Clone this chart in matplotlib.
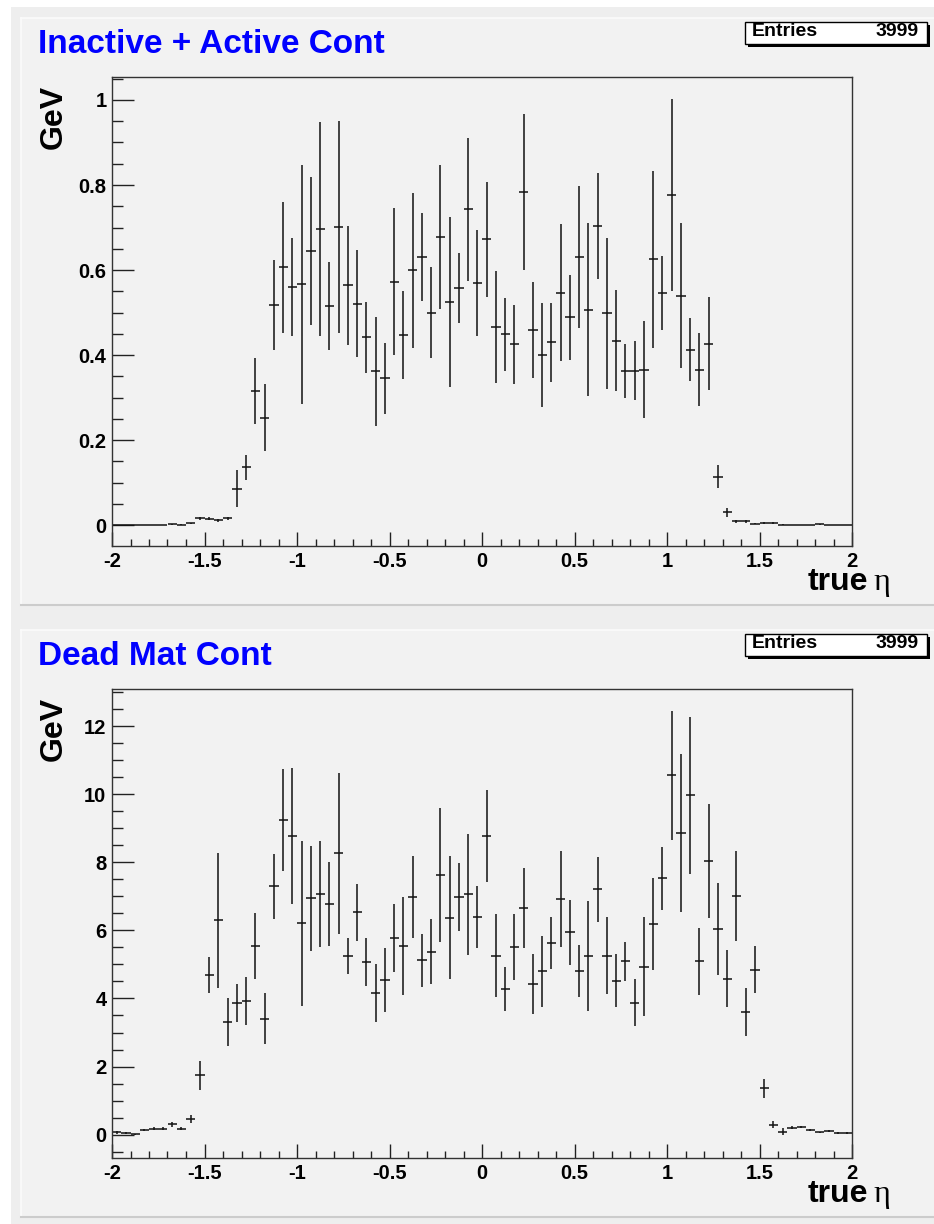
import matplotlib
matplotlib.use("Agg")
import matplotlib.pyplot as plt
from matplotlib.patches import Rectangle
from matplotlib.lines import Line2D
from matplotlib.ticker import MultipleLocator, FuncFormatter
import numpy as np

# 80 bins from -2 to 2
edges_lo, edges_hi, nbins = -2.0, 2.0, 80

top_vals = [0, 0, 0, 0, 0, 0, 0.002, 0.001, 0.004, 0.016, 0.015, 0.011, 0.016, 0.086,
            0.136, 0.315, 0.253, 0.517, 0.607, 0.56, 0.566, 0.645, 0.696, 0.515, 0.701,
            0.564, 0.521, 0.442, 0.362, 0.345, 0.573, 0.447, 0.599, 0.631, 0.5, 0.678,
            0.524, 0.558, 0.743, 0.569, 0.672, 0.466, 0.449, 0.425, 0.783, 0.459, 0.401,
            0.43, 0.547, 0.489, 0.631, 0.507, 0.704, 0.498, 0.434, 0.363, 0.363, 0.366,
            0.625, 0.546, 0.777, 0.54, 0.413, 0.366, 0.427, 0.114, 0.03, 0.009, 0.009,
            0.003, 0.005, 0.005, 0.0015, 0.001, 0.001, 0.001, 0.002, 0.001, 0.001, 0.001]
top_errs = [0, 0, 0, 0, 0, 0, 0.001, 0.001, 0.002, 0.004, 0.004, 0.003, 0.004, 0.043,
            0.03, 0.077, 0.079, 0.106, 0.154, 0.116, 0.282, 0.174, 0.251, 0.103, 0.25,
            0.14, 0.125, 0.084, 0.128, 0.084, 0.172, 0.104, 0.183, 0.104, 0.106, 0.17,
            0.2, 0.083, 0.168, 0.125, 0.135, 0.131, 0.086, 0.092, 0.184, 0.113, 0.122,
            0.093, 0.161, 0.10, 0.167, 0.203, 0.125, 0.177, 0.118, 0.063, 0.069, 0.113,
            0.208, 0.087, 0.226, 0.17, 0.075, 0.085, 0.11, 0.027, 0.01, 0.003, 0.003,
            0.001, 0.002, 0.002, 0.0005, 0.0005, 0.0005, 0.0005, 0.0005, 0.0005, 0.0005, 0.0005]

bot_vals = [0.06, 0.04, 0.01, 0.12, 0.17, 0.17, 0.30, 0.17, 0.46, 1.74, 4.69, 6.30, 3.30,
            3.87, 3.93, 5.53, 3.41, 7.30, 9.25, 8.78, 6.21, 6.95, 7.06, 6.77, 8.27, 5.26,
            6.53, 5.07, 4.16, 4.53, 5.78, 5.54, 6.99, 5.12, 5.38, 7.63, 6.38, 6.99, 7.06,
            6.39, 8.78, 5.26, 4.28, 5.52, 6.65, 4.42, 4.80, 5.63, 6.92, 5.95, 4.80, 5.26,
            7.21, 5.26, 4.52, 5.09, 3.87, 4.94, 6.19, 7.53, 10.56, 8.86, 9.97, 5.09, 8.05,
            6.04, 4.58, 7.01, 3.6, 4.84, 1.36, 0.29, 0.08, 0.2, 0.22, 0.14, 0.06, 0.1,
            0.04, 0.04]
bot_errs = [0.05, 0.03, 0.01, 0.03, 0.04, 0.04, 0.08, 0.04, 0.12, 0.43, 0.54, 1.98, 0.71,
            0.57, 0.71, 0.97, 0.76, 0.96, 1.5, 2.0, 2.42, 1.54, 1.56, 1.23, 2.37, 0.53,
            0.84, 0.71, 0.86, 0.94, 1.01, 1.43, 1.2, 0.78, 0.96, 1.98, 1.8, 1.0, 1.79,
            0.91, 1.36, 1.23, 0.66, 0.97, 1.18, 0.89, 1.04, 0.76, 1.41, 0.96, 0.77, 1.62,
            0.95, 1.14, 0.78, 0.58, 0.69, 1.45, 1.36, 0.92, 1.9, 2.32, 2.31, 0.99, 1.68,
            1.35, 0.84, 1.33, 0.7, 0.69, 0.28, 0.1, 0.1, 0.04, 0.04, 0.03, 0.02, 0.03,
            0.02, 0.02]

titles = ["Inactive + Active Cont", "Dead Mat Cont"]
entries = 3999
ylims = [(-0.049, 1.054), (-0.69, 13.1)]
ymajor = [0.2, 2]
yminor = [0.05, 0.5]

W, H = 934, 1224
BG = "#f2f2f2"
BOLD = "Liberation Sans"


def fx(px):
    return px / W


def fy(py):
    return 1 - py / H


fig = plt.figure(figsize=(W / 100, H / 100), dpi=100, facecolor="white")

# canvas + pads (drawn under the axes)
fig.patches.append(Rectangle((fx(11), fy(H)), fx(W) - fx(11), fy(7) - fy(H),
                             transform=fig.transFigure, facecolor="#eeeeee", edgecolor="none",
                             zorder=-3))
for dy in [0, 612]:
    fig.patches.append(Rectangle((fx(21), fy(605 + dy)), fx(W) - fx(21), fy(18 + dy) - fy(605 + dy),
                                 transform=fig.transFigure, facecolor=BG, edgecolor="none",
                                 zorder=-2))
    fig.lines.append(Line2D([fx(21), fx(W)], [fy(18 + dy)] * 2, transform=fig.transFigure,
                            color="#fbfbfb", lw=1.2, zorder=-1))
    fig.lines.append(Line2D([fx(21)] * 2, [fy(18 + dy), fy(605 + dy)], transform=fig.transFigure,
                            color="#fbfbfb", lw=1.2, zorder=-1))
    fig.lines.append(Line2D([fx(21), fx(W)], [fy(605 + dy)] * 2, transform=fig.transFigure,
                            color="#cccccc", lw=1.5, zorder=-1))

centers = edges_lo + (np.arange(nbins) + 0.5) * (edges_hi - edges_lo) / nbins
halfw = (edges_hi - edges_lo) / nbins / 2
fmt = FuncFormatter(lambda v, p: "%g" % round(v, 6))

datasets = [(top_vals, top_errs), (bot_vals, bot_errs)]
for k, (vals, errs) in enumerate(datasets):
    dy = 612 * k
    ax = fig.add_axes([fx(112), fy(546 + dy), fx(852) - fx(112), fy(77) - fy(546)])
    ax.set_zorder(1)
    ax.set_facecolor(BG)
    ax.errorbar(centers, vals, yerr=errs, xerr=halfw, fmt="none", ecolor="#111111",
                elinewidth=1.1, capsize=0)
    ax.set_xlim(edges_lo, edges_hi)
    ax.set_ylim(*ylims[k])
    ax.xaxis.set_major_locator(MultipleLocator(0.5))
    ax.xaxis.set_minor_locator(MultipleLocator(0.1))
    ax.yaxis.set_major_locator(MultipleLocator(ymajor[k]))
    ax.yaxis.set_minor_locator(MultipleLocator(yminor[k]))
    ax.xaxis.set_major_formatter(fmt)
    ax.yaxis.set_major_formatter(fmt)
    for s in ax.spines.values():
        s.set_color("#333333")
        s.set_linewidth(1.0)
    ax.tick_params(axis="x", which="major", direction="in", length=10, width=1, pad=4,
                   color="#222222")
    ax.tick_params(axis="x", which="minor", direction="in", length=5, width=1, color="#222222")
    ax.tick_params(axis="y", which="major", direction="in", length=16, width=1, pad=4,
                   color="#222222")
    ax.tick_params(axis="y", which="minor", direction="in", length=8, width=1, color="#222222")
    for lab in ax.get_xticklabels() + ax.get_yticklabels():
        lab.set_fontfamily(BOLD)
        lab.set_fontweight("bold")
        lab.set_fontsize(14.5)

    # title
    fig.text(fx(38), fy(53 + dy), titles[k], color="#0000ff", fontsize=24, fontweight="bold",
             family=BOLD, ha="left", va="baseline")
    # stats box with shadow
    fig.patches.append(Rectangle((fx(748), fy(47 + dy)), fx(930) - fx(748), fy(25) - fy(47),
                                 transform=fig.transFigure, facecolor="black", edgecolor="none",
                                 zorder=3))
    fig.patches.append(Rectangle((fx(745), fy(44 + dy)), fx(927) - fx(745), fy(22) - fy(44),
                                 transform=fig.transFigure, facecolor="white", edgecolor="black",
                                 lw=1, zorder=4))
    fig.text(fx(752), fy(31 + dy), "Entries", fontsize=14, fontweight="bold", family=BOLD,
             ha="left", va="center", zorder=5)
    fig.text(fx(919), fy(31 + dy), str(entries), fontsize=14, fontweight="bold", family=BOLD,
             ha="right", va="center", zorder=5)
    # axis titles
    fig.text(fx(54), fy(85 + dy), "GeV", rotation=90, fontsize=23, fontweight="bold",
             family=BOLD, ha="center", va="top")
    fig.text(fx(868), fy(590 + dy), "true", fontsize=23, fontweight="bold", family=BOLD,
             ha="right", va="baseline")
    fig.text(fx(873), fy(590 + dy), "\u03b7", fontsize=23, family="Liberation Serif",
             ha="left", va="baseline")

fig.savefig("out.png", dpi=100, facecolor="white")
